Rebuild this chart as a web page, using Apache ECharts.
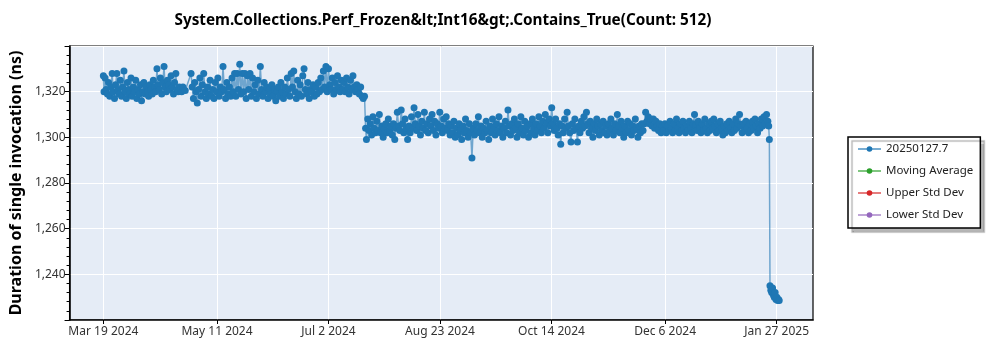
<!DOCTYPE html>
<html>
<head>
<meta charset="utf-8">
<script src="https://cdn.jsdelivr.net/npm/echarts@6/dist/echarts.min.js"></script>
<style>
html,body{margin:0;padding:0;background:#fff;}
#chart{width:1000px;height:350px;}
</style>
</head>
<body>
<div id="chart"></div>
<script>
// Day offsets are counted from Mar 19 2024.
const chartTitle = 'System.Collections.Perf_Frozen&lt;Int16&gt;.Contains_True(Count: 512)';
const yAxisTitle = 'Duration of single invocation (ns)';
const seriesNames = ['20250127.7', 'Moving Average', 'Upper Std Dev', 'Lower Std Dev'];
const seriesColors = ['#1f77b4', '#2ca02c', '#d62728', '#9467bd'];
const tickDays = [0, 53, 105, 157, 209, 262, 314];
const tickLabels = ['Mar 19 2024', 'May 11 2024', 'Jul 2 2024', 'Aug 23 2024', 'Oct 14 2024', 'Dec 6 2024', 'Jan 27 2025'];
const yTicks = [1220, 1240, 1260, 1280, 1300, 1320, 1340];

// [dayOffset, ns]
const springPoints = [
[0,1327],[0.3,1320],[0.8,1326],[1.3,1321],[1.9,1319],[2.4,1324],[3,1318],[3.5,1322],[4.1,1328],[4.6,1320],
[5.2,1317],[5.7,1323],[6.3,1328],[6.8,1321],[7.4,1319],[7.9,1325],[8.5,1318],[9,1322],[9.6,1329],[10.1,1320],
[10.7,1317],[11.2,1324],[11.8,1321],[12.3,1319],[12.9,1326],[13.4,1318],[14,1322],[14.5,1320],[15.1,1325],[15.6,1317],
[16.2,1321],[16.7,1319],[17.3,1323],[17.8,1316],[18.4,1320],[18.9,1324],[19.5,1319],[20,1322],[20.6,1320],[21.1,1318],
[21.7,1323],[22.2,1321],[22.8,1319],[23.3,1325],[23.9,1322],[24.4,1320],[25,1330],[25.5,1323],[26.1,1321],[26.6,1326],
[27.2,1319],[27.7,1324],[28.3,1331],[28.8,1322],[29.4,1320],[29.9,1325],[30.5,1323],[31,1321],[31.6,1327],[32.1,1322],
[32.7,1319],[33.2,1324],[33.8,1328],[34.3,1321],[34.9,1320],[35.4,1322],[36,1321],[36.5,1320],[37.1,1322],[38.2,1320.5]
];
const summerPoints = [
[40.9,1328],[41.4,1322],[42,1317],[42.6,1324],[43.2,1320],[43.8,1315],[44.4,1321],[45,1326],[45.6,1318],[46.2,1323],
[46.8,1328],[47.4,1320],[48,1317],[48.6,1322],[49.2,1319],[49.8,1325],[50.4,1318],[51,1321],[51.6,1317],[52.2,1324],
[52.8,1320],[53.4,1326],[54,1318],[54.6,1322],[55.2,1320],[55.8,1331],[56.4,1321],[57,1317],[57.6,1324],[58.2,1319],
[58.8,1322],[59.4,1318],[60,1326],[60.6,1320],[61.2,1328],[61.8,1318],[62.4,1328],[63,1321],[63.6,1332],[64.2,1319],
[64.8,1328],[65.4,1320],[66,1328],[66.6,1317],[67.2,1327],[67.8,1321],[68.4,1328],[69,1318],[69.6,1326],[70.2,1320],
[70.8,1323],[71.4,1317],[72,1325],[72.6,1319],[73.2,1331],[73.8,1321],[74.4,1318],[75,1324],[75.6,1320],[76.2,1322],
[76.8,1317],[77.4,1321],[78,1319],[78.6,1323],[79.2,1318],[79.8,1321],[80.4,1316],[81,1320],[81.6,1322],[82.2,1318],
[82.8,1324],[83.4,1320],[84,1317],[84.6,1322],[85.2,1319],[85.8,1326],[86.4,1321],[87,1318],[87.6,1328],[88.2,1322],
[88.8,1329],[89.4,1320],[90,1317],[90.6,1325],[91.2,1319],[91.8,1323],[92.4,1318],[93,1327],[93.6,1330],[94.2,1321],
[94.8,1319],[95.4,1324],[96,1317],[96.6,1321],[97.2,1320],[97.8,1323],[98.4,1318],[99,1322],[99.6,1319],[100.2,1324],
[100.8,1320],[101.4,1326],[102,1321],[102.6,1329],[103.2,1322],[103.8,1331],[104.4,1320],[105,1330],[105.6,1323],[106.2,1321],
[106.8,1326],[107.4,1319],[108,1324],[108.6,1321],[109.2,1327],[109.8,1322],[110.4,1320],[111,1325],[111.6,1321],[112.2,1324],
[112.8,1320],[113.4,1326],[114,1322],[114.6,1319],[115.2,1325],[115.8,1321],[116.4,1327],[117,1322],[117.6,1320],[118.2,1323],
[118.8,1321],[119.4,1319],[120,1322],[120.6,1318],[121.2,1317],[121.8,1318]
];
const autumnPoints = [
[122.3,1304],[122.7,1299],[123.3,1308],[123.9,1303],[124.5,1306],[125.1,1301],[125.7,1309],[126.3,1304],[126.9,1302],[127.5,1307],
[128.1,1303],[128.7,1310],[129.3,1302],[129.9,1305],[130.5,1300],[131.1,1304],[131.7,1306],[132.3,1302],[132.9,1308],[133.5,1303],
[134.1,1305],[134.7,1301],[135.3,1306],[135.9,1299],[136.5,1304],[137.1,1311],[137.7,1305],[138.3,1303],[138.9,1312],[139.5,1306],
[140.1,1302],[140.7,1308],[141.3,1304],[141.9,1299],[142.5,1305],[143.1,1302],[143.7,1309],[144.3,1304],[144.9,1313],[145.5,1306],
[146.1,1303],[146.7,1310],[147.3,1305],[147.9,1301],[148.5,1307],[149.1,1304],[149.7,1311],[150.3,1303],[150.9,1306],[151.5,1302],
[152.1,1308],[152.7,1305],[153.3,1310],[153.9,1303],[154.5,1307],[155.1,1301],[155.7,1306],[156.3,1304],[156.9,1311],[157.5,1305],
[158.1,1302],[158.7,1308],[159.3,1304],[159.9,1309],[160.5,1303],[161.1,1306],[161.7,1301],[162.3,1305],[162.9,1302],[163.5,1307],
[164.1,1300],[164.7,1304],[165.3,1301],[165.9,1306],[166.5,1303],[167.1,1299],[167.7,1305],[168.3,1302],[168.9,1308],[169.5,1303],
[170.1,1300],[170.7,1306],[171.3,1302],[171.9,1291],[172.5,1304],[173.1,1301],[173.7,1306],[174.3,1303],[174.9,1309],[175.5,1302],
[176.1,1305],[176.7,1300],[177.3,1304],[177.9,1302],[178.5,1307],[179.1,1303],[179.7,1299],[180.3,1305],[180.9,1302],[181.5,1308],
[182.1,1304],[182.7,1301],[183.3,1306],[183.9,1303],[184.5,1309],[185.1,1302],[185.7,1305],[186.3,1300],[186.9,1304],[187.5,1307],
[188.1,1302],[188.7,1312],[189.3,1305],[189.9,1301],[190.5,1306],[191.1,1303],[191.7,1308],[192.3,1304],[192.9,1300],[193.5,1306],
[194.1,1302],[194.7,1309],[195.3,1304],[195.9,1301],[196.5,1307],[197.1,1303],[197.7,1305],[198.3,1300],[198.9,1306],[199.5,1302],
[200.1,1308],[200.7,1304],[201.3,1301],[201.9,1306],[202.5,1303],[203.1,1309],[203.7,1305],[204.3,1302],[204.9,1307],[205.5,1304],
[206.1,1310],[206.7,1306],[207.3,1302],[207.9,1308],[208.5,1305],[209.1,1313],[209.7,1306],[210.3,1303],[210.9,1308],[211.5,1304],
[212.1,1301],[212.7,1306],[213.3,1297],[213.9,1305],[214.5,1302],[215.1,1308],[215.7,1304],[216.3,1311],[216.9,1305],[217.5,1302],
[218.1,1298],[218.7,1306],[219.3,1303],[219.9,1308],[220.5,1304],[221.1,1298],[221.7,1305],[222.3,1302],[222.9,1307],[223.5,1304],
[224.1,1309],[224.7,1305],[225.3,1311],[225.9,1306],[226.5,1302],[227.1,1307],[227.7,1304],[228.3,1300],[228.9,1306],[229.5,1303],
[230.1,1308],[230.7,1305],[231.3,1301],[231.9,1306],[232.5,1303],[233.1,1307],[233.7,1302],[234.3,1305],[234.9,1301],[235.5,1306],
[236.1,1303],[236.7,1308],[237.3,1304],[237.9,1301],[238.5,1306],[239.1,1303],[239.7,1310],[240.3,1305],[240.9,1302],[241.5,1307],
[242.1,1304],[242.7,1300],[243.3,1305],[243.9,1302],[244.5,1307],[245.1,1303],[245.7,1306],[246.3,1301],[246.9,1305],[247.5,1303],
[248.1,1308],[248.7,1304],[249.3,1300],[249.9,1305],[250.5,1302],[251.1,1306],[251.7,1303],[252.3,1306],[252.9,1311],[253.5,1307],
[254.1,1309],[254.7,1306],[255.3,1308],[255.9,1305],[256.5,1308],[257.1,1304],[257.7,1307],[258.3,1305],[258.9,1303],[259.5,1306],
[260.1,1302],[260.7,1305],[261.3,1303],[261.9,1306],[262.5,1302],[263.1,1305],[263.7,1303],[264.3,1307],[264.9,1304],[265.5,1302],
[266.1,1306],[266.7,1303],[267.3,1308],[267.9,1304],[268.5,1302],[269.1,1306],[269.7,1303],[270.3,1307],[270.9,1304],[271.5,1302],
[272.1,1305],[272.7,1303],[273.3,1307],[273.9,1304],[274.5,1302],[275.1,1306],[275.7,1310],[276.3,1305],[276.9,1303],[277.5,1307],
[278.1,1304],[278.7,1302],[279.3,1306],[279.9,1303],[280.5,1308],[281.1,1304],[281.7,1302],[282.3,1306],[282.9,1303],[283.5,1307],
[284.1,1304],[284.7,1308],[285.3,1305],[285.9,1302],[286.5,1306],[287.1,1303],[287.7,1307],[288.3,1304],[288.9,1301],[289.5,1305],
[290.1,1302],[290.7,1306],[291.3,1303],[291.9,1307],[292.5,1304],[293.1,1302],[293.7,1306],[294.3,1303],[294.9,1308],[295.5,1304],
[296.1,1306],[296.7,1310],[297.3,1305],[297.9,1302],[298.5,1306],[299.1,1303],[299.7,1307],[300.3,1304],[300.9,1302],[301.5,1306],
[302.1,1303],[302.7,1307],[303.3,1304],[303.9,1308],[304.5,1305],[305.1,1302],[305.7,1306],[306.3,1304],[306.9,1308],[307.5,1305],
[308.1,1309],[308.7,1306],[309.3,1310],[309.9,1307],[310.3,1305],[310.6,1299]
];
const finalPoints = [
[310.9,1235],[311.3,1233],[311.7,1232],[312.1,1234],[312.5,1231],[312.9,1230],[313.3,1232],[313.7,1229],[314.1,1230],[314.5,1228.5],
[314.9,1229],[315.2,1228.5]
];

const allPoints = springPoints.concat(summerPoints, autumnPoints, finalPoints);
const font = '"Noto Sans", "Open Sans", sans-serif';

const chart = echarts.init(document.getElementById('chart'), null, {renderer: 'canvas'});

const series = seriesNames.map((name, i) => ({
  name: name,
  type: 'line',
  data: i === 0 ? allPoints : [],
  symbol: 'circle',
  symbolSize: 7,
  showAllSymbol: true,
  color: seriesColors[i],
  itemStyle: {color: seriesColors[i]},
  lineStyle: {color: seriesColors[i], width: 1.5, opacity: 0.6},
  emphasis: {disabled: true},
  animation: false
}));

chart.setOption({
  animation: false,
  title: {
    text: chartTitle,
    left: 438,
    top: 8,
    textAlign: 'center',
    textStyle: {fontFamily: font, fontSize: 15.3, fontWeight: 'bold', color: '#000'}
  },
  legend: {
    data: seriesNames,
    orient: 'vertical',
    left: 848,
    top: 137,
    padding: [6, 7, 7, 9],
    itemWidth: 23,
    itemHeight: 7,
    itemGap: 10,
    backgroundColor: '#fff',
    borderColor: '#000',
    borderWidth: 1.5,
    borderRadius: 0,
    shadowColor: 'rgba(0,0,0,0.28)',
    shadowBlur: 1,
    shadowOffsetX: 4,
    shadowOffsetY: 4,
    textStyle: {fontFamily: font, fontSize: 11.5, color: '#222'}
  },
  grid: {
    left: 63, right: 187, top: 46, bottom: 30,
    show: true,
    backgroundColor: '#e5ecf6',
    borderColor: '#000',
    borderWidth: 1.2
  },
  xAxis: {
    type: 'value',
    min: -15.76,
    max: 330.96,
    axisLine: {show: true, onZero: false, lineStyle: {color: '#000', width: 1.5}},
    axisTick: {show: true, length: 4, customValues: tickDays, lineStyle: {color: '#000'}},
    axisLabel: {
      customValues: tickDays,
      margin: 6,
      fontFamily: font, fontSize: 12, color: '#333',
      formatter: v => { const k = tickDays.indexOf(Math.round(v)); return k >= 0 ? tickLabels[k] : ''; }
    },
    splitLine: {show: true, lineStyle: {color: '#fff', width: 1}}
  },
  yAxis: {
    type: 'value',
    min: yTicks[0],
    max: yTicks[yTicks.length - 1],
    interval: 20,
    name: yAxisTitle,
    nameLocation: 'middle',
    nameGap: 41,
    nameTextStyle: {fontFamily: font, fontSize: 16, fontWeight: 'bold', color: '#000'},
    axisLine: {show: true, onZero: false, lineStyle: {color: '#000', width: 1.5}},
    axisTick: {show: true, length: 5, lineStyle: {color: '#000'}},
    minorTick: {show: true, splitNumber: 5, length: 3, lineStyle: {color: '#000'}},
    axisLabel: {
      showMinLabel: false, showMaxLabel: false,
      margin: 4,
      fontFamily: font, fontSize: 12, color: '#333',
      formatter: v => v.toLocaleString('en-US')
    },
    splitLine: {show: true, lineStyle: {color: '#fff', width: 1}}
  },
  series: series
});
</script>
</body>
</html>
